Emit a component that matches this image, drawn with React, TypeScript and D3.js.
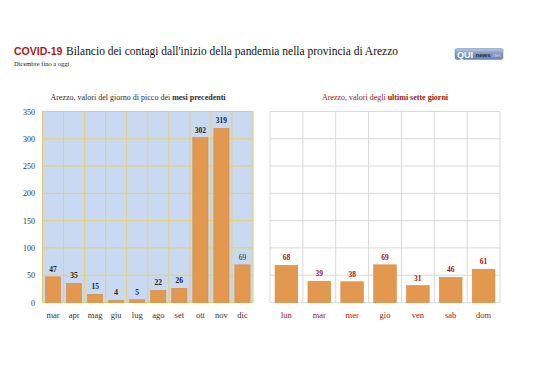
import React from "react";
import * as d3 from "d3";

const months = ["mar", "apr", "mag", "giu", "lug", "ago", "set", "ott", "nov", "dic"];
const monthValues = [47, 35, 15, 4, 5, 22, 26, 302, 319, 69];
const days = ["lun", "mar", "mer", "gio", "ven", "sab", "dom"];
const dayValues = [68, 39, 38, 69, 31, 46, 61];
const yTicks = [0, 50, 100, 150, 200, 250, 300, 350];

const SERIF = "'Liberation Serif', 'DejaVu Serif', serif";
const SANS = "'Liberation Sans', Arial, sans-serif";
const BAR = "#e2984e";
const BAR_STROKE = "#d88a3e";
const DARKRED = "#9e1616";

export default function App() {
  const top = 111.5;
  const bottom = 302.5;
  const y = d3.scaleLinear().domain([0, 350]).range([bottom, top]);

  const xL = d3.scaleBand().domain(months).range([42.5, 253]).paddingInner(0.28).paddingOuter(0.14);
  const xR = d3.scaleBand().domain(days).range([270, 500]).paddingInner(0.31).paddingOuter(0.155);

  const stepL = xL.step();
  const stepR = xR.step();
  const leftEdgesL = months.map((_, i) => 42.5 + i * (210.5 / months.length));
  const leftEdgesR = days.map((_, i) => 270 + i * (230 / days.length));

  return (
    <svg width={538} height={380} style={{ position: "absolute", left: 0, top: 0, background: "#fff" }}>
      {/* Title */}
      <text x={14} y={55} fontFamily={SANS} fontWeight="bold" fontSize={10.5} fill="#b01818">COVID-19</text>
      <text x={66} y={55} fontFamily={SERIF} fontSize={12.5} fill="#111" textLength={332} lengthAdjust="spacingAndGlyphs">Bilancio dei contagi dall'inizio della pandemia nella provincia di Arezzo</text>
      <text x={14} y={66} fontFamily={SERIF} fontSize={6.5} fill="#222">Dicembre fino a oggi</text>

      {/* Logo */}
      <defs>
        <linearGradient id="logoG" x1="0" y1="0" x2="0" y2="1">
          <stop offset="0" stopColor="#b8c8e0" />
          <stop offset="0.5" stopColor="#7f97bd" />
          <stop offset="1" stopColor="#6a84ae" />
        </linearGradient>
      </defs>
      <rect x={455} y={48.5} width={48} height={11} rx={2} fill="url(#logoG)" stroke="#6d84aa" strokeWidth={0.5} />
      <text x={457} y={58} fontFamily={SANS} fontWeight="bold" fontSize={9} fill="#fff">QUI</text>
      <text x={475.5} y={57.3} fontFamily={SANS} fontWeight="bold" fontSize={6} fill="#1c2a48">news</text>
      <text x={491.5} y={57.3} fontFamily={SANS} fontSize={5.5} fill="#d0dbec">.net</text>

      {/* Left chart */}
      <text x={138} y={100} textAnchor="middle" fontFamily={SERIF} fontSize={8} fill="#2a2a2a">
        Arezzo, valori del giorno di picco dei <tspan fontWeight="bold">mesi precedenti</tspan>
      </text>
      <rect x={42.5} y={top} width={210.5} height={bottom - top} fill="#c9d9f1" />
      {yTicks.map((t) => (
        <line key={"gl" + t} x1={42.5} x2={253} y1={y(t)} y2={y(t)} stroke="#e6cf74" strokeWidth={1} />
      ))}
      {leftEdgesL.map((xv, i) => (
        <line key={"vl" + i} x1={xv} x2={xv} y1={top} y2={bottom} stroke="#e6cf74" strokeWidth={1} />
      ))}
      <rect x={42.5} y={top} width={210.5} height={bottom - top} fill="none" stroke="#e3c870" strokeWidth={1} />
      {yTicks.map((t) => (
        <text key={"yl" + t} x={35} y={y(t) + 3} textAnchor="end" fontFamily={SERIF} fontSize={8} fill="#333">{t}</text>
      ))}
      {months.map((m, i) => (
        <g key={"bl" + m}>
          <rect x={xL(m)!} y={y(monthValues[i])} width={xL.bandwidth()} height={bottom - y(monthValues[i])} fill={BAR} stroke={BAR_STROKE} strokeWidth={0.6} />
          <text x={xL(m)! + xL.bandwidth() / 2} y={y(monthValues[i]) - 5} textAnchor="middle" fontFamily={SERIF} fontSize={7.5} fontWeight={m === "dic" ? "normal" : "bold"} fill="#222">{monthValues[i]}</text>
          <text x={42.5 + (i + 0.5) * stepL} y={318} textAnchor="middle" fontFamily={SERIF} fontSize={8.5} fill="#333">{m}</text>
        </g>
      ))}

      {/* Right chart */}
      <text x={385} y={100} textAnchor="middle" fontFamily={SERIF} fontSize={8} fill={DARKRED}>
        Arezzo, valori degli <tspan fontWeight="bold">ultimi sette giorni</tspan>
      </text>
      {yTicks.map((t) => (
        <line key={"gr" + t} x1={270} x2={500} y1={y(t)} y2={y(t)} stroke="#d9d9d9" strokeWidth={1} />
      ))}
      {leftEdgesR.concat([500]).map((xv, i) => (
        <line key={"vr" + i} x1={xv} x2={xv} y1={top} y2={bottom} stroke="#d9d9d9" strokeWidth={1} />
      ))}
      {days.map((d, i) => (
        <g key={"br" + d}>
          <rect x={xR(d)!} y={y(dayValues[i])} width={xR.bandwidth()} height={bottom - y(dayValues[i])} fill={BAR} stroke={BAR_STROKE} strokeWidth={0.6} />
          <text x={xR(d)! + xR.bandwidth() / 2} y={y(dayValues[i]) - 5} textAnchor="middle" fontFamily={SERIF} fontSize={7.5} fontWeight="bold" fill={DARKRED}>{dayValues[i]}</text>
          <text x={270 + (i + 0.5) * stepR} y={318} textAnchor="middle" fontFamily={SERIF} fontSize={8.5} fill={DARKRED}>{d}</text>
        </g>
      ))}
    </svg>
  );
}
